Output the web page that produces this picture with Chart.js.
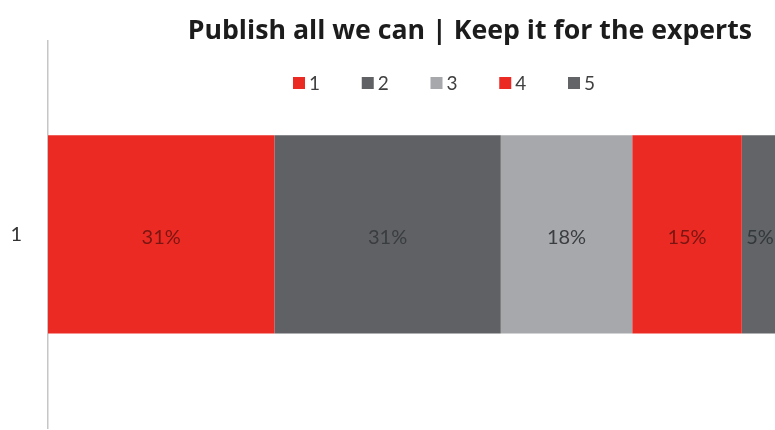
<!DOCTYPE html>
<html>
<head>
<meta charset="utf-8">
<script src="https://cdn.jsdelivr.net/npm/chart.js@4.4.1/dist/chart.umd.min.js"></script>
<style>
    html, body { margin: 0; padding: 0; background: #fff; overflow: hidden; }
    #contenedor { position: relative; width: 775px; height: 430px; }
</style>
</head>
<body>
<div id="contenedor"><canvas id="grafico"></canvas></div>
<script>
const titulo = 'Publish all we can | Keep it for the experts';
const categorias = ['1'];
const series = ['1', '2', '3', '4', '5'];
const valores1 = [31];
const valores2 = [31];
const valores3 = [18];
const valores4 = [15];
const valores5 = [5];
const valores = [valores1, valores2, valores3, valores4, valores5];

const colores = ['#ec2a24', '#5f6164', '#a6a8ab', '#ec2a24', '#626467'];
const coloresEtiqueta = ['#7a1612', '#3a3d40', '#3b3e41', '#7a1612', '#33383b'];

// leyenda dibujada dentro del area del grafico, como en el original
const leyendaInterna = {
    id: 'leyendaInterna',
    afterDraw(chart, args, opts) {
        const ctx = chart.ctx;
        ctx.save();
        ctx.font = opts.fuente;
        ctx.textBaseline = 'middle';
        ctx.textAlign = 'left';
        chart.data.datasets.forEach((ds, i) => {
            const x = opts.x + i * opts.paso;
            ctx.fillStyle = ds.backgroundColor;
            ctx.fillRect(x, opts.y - opts.caja / 2, opts.caja, opts.caja);
            ctx.fillStyle = opts.color;
            ctx.fillText(ds.label, x + opts.caja + 4, opts.y + 1);
        });
        ctx.restore();
    }
};

const etiquetasBarras = {
    id: 'etiquetasBarras',
    afterDatasetsDraw(chart, args, opts) {
        const ctx = chart.ctx;
        ctx.save();
        ctx.font = opts.fuente;
        ctx.textAlign = 'center';
        ctx.textBaseline = 'middle';
        chart.data.datasets.forEach((ds, i) => {
            chart.getDatasetMeta(i).data.forEach((barra, j) => {
                const cx = (barra.x + barra.base) / 2;
                ctx.fillStyle = coloresEtiqueta[i];
                ctx.fillText(ds.data[j] + '%', cx, barra.y + 3);
            });
        });
        ctx.restore();
    }
};

new Chart(document.getElementById('grafico'), {
    type: 'bar',
    data: {
        labels: categorias,
        datasets: series.map((s, i) => ({
            label: s,
            data: valores[i],
            backgroundColor: colores[i],
            borderWidth: 0,
            barPercentage: 0.512,
            categoryPercentage: 1,
            clip: false
        }))
    },
    plugins: [leyendaInterna, etiquetasBarras],
    options: {
        indexAxis: 'y',
        responsive: true,
        maintainAspectRatio: false,
        animation: false,
        layout: { padding: { left: 0, right: 23, top: 0, bottom: 2 } },
        plugins: {
            legend: { display: false },
            tooltip: { enabled: false },
            title: {
                display: true,
                text: titulo,
                align: 'end',
                color: '#1c1c1c',
                font: { family: 'Open Sans', size: 26.7, weight: 'bold', lineHeight: 1 },
                padding: { top: 18, bottom: -4 }
            },
            leyendaInterna: { x: 293, y: 83, paso: 68.75, caja: 12, fuente: '19px Lato', color: '#404040' },
            etiquetasBarras: { fuente: '20px Lato' }
        },
        scales: {
            x: { stacked: true, display: false, min: 0, max: 96.4 },
            y: {
                stacked: true,
                grid: { display: false, drawTicks: false },
                border: { display: true, color: '#c6c6c6', width: 1.5 },
                ticks: { color: '#333333', font: { family: 'Lato', size: 20 }, padding: 26 },
                afterFit(escala) {
                    escala.width = 48;
                    escala.paddingTop = 0;
                    escala.paddingBottom = 0;
                }
            }
        }
    }
});
</script>
</body>
</html>
